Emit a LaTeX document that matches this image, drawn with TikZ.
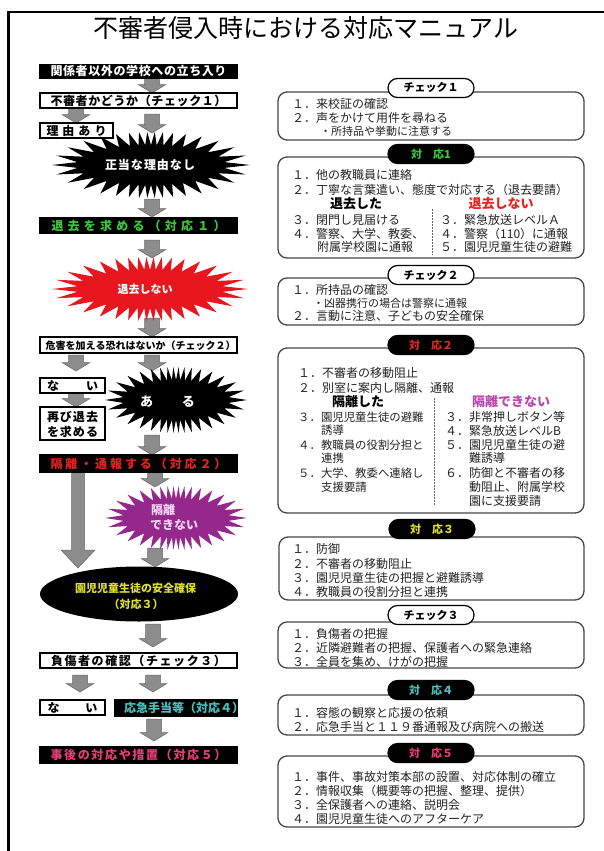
\documentclass[tikz,border=0pt]{standalone}
\usepackage{fontspec}
\setmainfont{Noto Sans CJK JP}
\usetikzlibrary{shapes.geometric,shapes.misc}
\definecolor{jgreen}{RGB}{60,200,60}
\definecolor{jred}{RGB}{230,35,35}
\definecolor{jyellow}{RGB}{225,225,50}
\definecolor{jcyan}{RGB}{70,195,190}
\definecolor{jpink}{RGB}{235,60,120}
\definecolor{burstred}{RGB}{232,22,30}
\definecolor{burstpurple}{RGB}{150,40,140}
\definecolor{jpurple}{RGB}{185,70,175}
\definecolor{agray}{RGB}{140,140,140}
\definecolor{agrayd}{RGB}{105,105,105}
\definecolor{rboxc}{RGB}{70,70,70}
\definecolor{txtc}{RGB}{35,35,35}
\def\sprA#1{#1\sprB}
\def\sprB#1{\ifx#1\relax\else\hfill#1\expandafter\sprB\fi}
\newcommand\spread[2]{\makebox[#1][s]{\sprA#2\relax}}
\newcommand\garrow[3]{\filldraw[arrowsty] (#1-7.5,#2) -- (#1+7.5,#2) -- (#1+7.5,#3-8.5) -- (#1+14,#3-8.5) -- (#1,#3) -- (#1-14,#3-8.5) -- (#1-7.5,#3-8.5) -- cycle;}
\newcommand\burst[5]{\fill[#5] plot[variable=\t, samples at={0,1,...,67}] ({#1+(#3-mod(\t,2)*0.25*#3)*cos(\t*5.2941+17*sin(\t*10.5882))}, {#2+(#4-mod(\t,2)*0.4*#4)*sin(\t*5.2941+17*sin(\t*10.5882))}) -- cycle;}
\begin{document}
\begin{tikzpicture}[x=1pt,y=-1pt,
  arrowsty/.style={fill=agray, draw=agrayd, line width=0.5pt},
  lbox/.style={draw=black, line width=1.1pt, fill=white, inner sep=0pt, font=\fontsize{12}{14}\selectfont\bfseries, text height=10pt, text depth=1pt, minimum height=15pt},
  dbox/.style={lbox, fill=black},
  btxt/.style={inner sep=0pt, text=white, font=\fontsize{12}{14}\selectfont\bfseries, text height=10pt, text depth=1pt},
  pill/.style={rounded rectangle, draw=black, line width=1.2pt, fill=white, minimum width=86pt, minimum height=19pt, inner sep=0pt, font=\fontsize{11}{13}\selectfont\bfseries, text height=9pt, text depth=1pt},
  dpill/.style={pill, fill=black},
  rbox/.style={draw=rboxc, line width=1.3pt, rounded corners=9pt, fill=white},
  rtxt/.style={anchor=west, inner sep=0pt, text=txtc, font=\fontsize{12}{14}\selectfont, text height=10pt, text depth=1pt},
  ntxt/.style={rtxt, font=\fontsize{11.4}{13}\selectfont},
  stxt/.style={rtxt, font=\fontsize{11}{13}\selectfont},
  htxt/.style={inner sep=0pt, font=\fontsize{13}{15}\selectfont\bfseries, text height=10.5pt, text depth=1pt},
  sep/.style={draw=black!60, line width=0.8pt, dash pattern=on 1.5pt off 1.5pt}
]
\useasboundingbox (0,0) rectangle (604,851);
\fill[white] (0,0) rectangle (604,851);
\draw[line width=3pt] (8.5,851) -- (8.5,11);
\draw[line width=2pt] (7,12) -- (604,12);
\node[inner sep=0pt, font=\fontsize{25}{28}\selectfont] (title) at (306,28) {不審者侵入時における対応マニュアル};

% ---------- left column ----------
\garrow{152}{78}{93}
\garrow{76}{108}{123}
\garrow{152}{114}{133}
\garrow{152}{199}{217}
\garrow{152}{240}{258}
\garrow{152}{318}{337}
\garrow{76}{355}{371}
\garrow{152}{355}{371}
\garrow{76}{393}{407}
\garrow{152}{435}{455}
\garrow{155}{472}{487}
\garrow{155}{548}{567}
\garrow{153}{624}{647}
\garrow{80}{675}{692}
\garrow{153}{675}{692}
\garrow{154}{719}{741}
\filldraw[arrowsty] (71.5,472) -- (84.5,472) -- (84.5,550) -- (95,550) -- (78,568) -- (61,550) -- (71.5,550) -- cycle;

\node[dbox, minimum width=197pt, minimum height=14pt, text=white] (bA) at (138.5,71.5) {\spread{176pt}{関係者以外の学校への立ち入り}};
\node[lbox, minimum width=197pt] (bB) at (138.5,100.5) {\spread{176pt}{不審者かどうか（チェック１）}};
\node[lbox, minimum width=73pt] (bC) at (76.5,130.5) {\spread{60pt}{理由あり}};

\burst{151}{165}{99}{33}{black}
\node[btxt] (s1) at (150,165) {\spread{90pt}{正当な理由なし}};

\node[dbox, minimum width=197pt, text=jgreen] (bD) at (138.5,225.5) {\spread{174pt}{退去を求める（対応１）}};

\burst{150}{289}{98}{32}{burstred}
\node[btxt, font=\fontsize{11}{13}\selectfont\bfseries] (s2) at (145,289) {退去しない};

\node[lbox, minimum width=197pt, minimum height=16pt, font=\fontsize{10}{12}\selectfont\bfseries] (bE) at (138.5,345) {\spread{186pt}{危害を加える恐れはないか（チェック２）}};
\node[lbox, minimum width=65pt] (bF) at (72.5,385.5) {\spread{51pt}{ない}};
\node[lbox, minimum width=65pt, minimum height=33pt] (bG) at (72.5,423.5) {};
\node[btxt, text=black] (bG1) at (72.5,417) {\spread{51pt}{再び退去}};
\node[btxt, text=black] (bG2) at (72.5,432) {\spread{51pt}{を求める}};

\burst{176}{400}{71}{33}{black}
\node[btxt, font=\fontsize{13}{15}\selectfont\bfseries] (s3) at (167.5,402) {\spread{55pt}{ある}};

\node[dbox, minimum width=197pt, minimum height=17pt, text=jred] (bH) at (138.5,463.5) {\spread{176pt}{隔離・通報する（対応２）}};

\burst{176}{518}{71}{32}{burstpurple}
\node[btxt, anchor=west, text={rgb,255:red,245;green,215;blue,245}] (s4a) at (151,510) {隔離};
\node[btxt, anchor=west, text={rgb,255:red,245;green,215;blue,245}] (s4b) at (150,525) {できない};

\node[ellipse, fill=black, minimum width=198pt, minimum height=55pt, inner sep=0pt] (ell) at (139,594) {};
\node[btxt, text=jyellow, font=\fontsize{11}{13}\selectfont\bfseries] (ell1) at (135,588) {\spread{120pt}{園児児童生徒の安全確保}};
\node[btxt, text=jyellow, font=\fontsize{11}{13}\selectfont\bfseries] (ell2) at (136,604) {（対応３）};

\node[lbox, minimum width=197pt] (bI) at (138.5,660.5) {\spread{175pt}{負傷者の確認（チェック３）}};
\node[lbox, minimum width=65pt] (bJ) at (72.5,707.5) {\spread{50pt}{ない}};
\node[dbox, minimum width=122pt, minimum height=16pt, text=jcyan] (bK) at (176,708) {\spread{104pt}{応急手当等（対応４）}};
\node[dbox, minimum width=197pt, minimum height=16pt, text=jpink] (bL) at (138.5,755) {\spread{176pt}{事後の対応や措置（対応５）}};

% ---------- right column ----------
% check 1
\draw[rbox] (278,92) rectangle (584,140);
\node[pill] (p1) at (431,88) {チェック１};
\node[rtxt] (r1a) at (292,104) {１．来校証の確認};
\node[rtxt] (r1b) at (292,118) {２．声をかけて用件を尋ねる};
\node[stxt] (r1c) at (320,130.5) {・所持品や挙動に注意する};

% taiou 1
\draw[rbox] (278,157) rectangle (584,258);
\node[dpill, text=jgreen] (p2) at (431,154) {対　応1};
\node[rtxt] (r2a) at (292,175) {１．他の教職員に連絡};
\node[rtxt] (r2b) at (292,190) {２．丁寧な言葉遣い、態度で対応する（退去要請）};
\node[htxt] (r2c) at (356,204) {退去した};
\node[htxt, text=jred] (r2d) at (501,204) {退去しない};
\draw[sep] (432,209) -- (432,255);
\node[rtxt] (r2e) at (292,220) {３．閉門し見届ける};
\node[rtxt] (r2f) at (292,233.5) {４．警察、大学、教委、};
\node[rtxt] (r2g) at (317,247) {附属学校園に通報};
\node[rtxt] (r2h) at (440,220) {３．緊急放送レベルＡ};
\node[rtxt] (r2i) at (440,233.5) {４．警察（110）に通報};
\node[rtxt] (r2j) at (440,247) {５．園児児童生徒の避難};

% check 2
\draw[rbox] (278,278) rectangle (584,325);
\node[pill] (p3) at (431,275) {チェック２};
\node[rtxt] (r3a) at (292,290) {１．所持品の確認};
\node[stxt] (r3b) at (313,303) {・凶器携行の場合は警察に通報};
\node[rtxt] (r3c) at (292,315.5) {２．言動に注意、子どもの安全確保};

% taiou 2
\draw[rbox] (278,348) rectangle (584,513);
\node[dpill, text=jred] (p4) at (431,345) {対　応２};
\node[rtxt] (r4a) at (298,373) {１．不審者の移動阻止};
\node[rtxt] (r4b) at (298,388) {２．別室に案内し隔離、通報};
\node[htxt] (r4c) at (358,402) {隔離した};
\node[htxt, text=jpurple] (r4d) at (511,402) {隔離できない};
\draw[sep] (434,398) -- (434,506);
\node[ntxt] (r4e) at (298,417) {３．園児児童生徒の避難};
\node[ntxt] (r4f) at (321,430) {誘導};
\node[ntxt] (r4g) at (298,445) {４．教職員の役割分担と};
\node[ntxt] (r4h) at (321,458) {連携};
\node[ntxt] (r4i) at (298,473) {５．大学、教委へ連絡し};
\node[ntxt] (r4j) at (321,487) {支援要請};
\node[rtxt] (r4k) at (445,417) {３．非常押しボタン等};
\node[rtxt] (r4l) at (445,430.5) {４．緊急放送レベルB};
\node[rtxt] (r4m) at (445,445) {５．園児児童生徒の避};
\node[rtxt] (r4n) at (469,458) {難誘導};
\node[rtxt] (r4o) at (445,473) {６．防御と不審者の移};
\node[rtxt] (r4p) at (469,487) {動阻止、附属学校};
\node[rtxt] (r4q) at (469,500.5) {園に支援要請};

% taiou 3
\draw[rbox] (279,537) rectangle (584,600);
\node[dpill, text=jyellow] (p5) at (432,529) {対　応３};
\node[rtxt] (r5a) at (292,549) {１．防御};
\node[rtxt] (r5b) at (292,564) {２．不審者の移動阻止};
\node[rtxt] (r5c) at (292,578) {３．園児児童生徒の把握と避難誘導};
\node[rtxt] (r5d) at (292,592) {４．教職員の役割分担と連携};

% check 3
\draw[rbox] (278,622) rectangle (584,668);
\node[pill] (p6) at (431,615) {チェック３};
\node[rtxt] (r6a) at (292,634) {１．負傷者の把握};
\node[rtxt] (r6b) at (292,648) {２．近隣避難者の把握、保護者への緊急連絡};
\node[rtxt] (r6c) at (292,662) {３．全員を集め、けがの把握};

% taiou 4
\draw[rbox] (278,695) rectangle (584,735);
\node[dpill, text=jcyan] (p7) at (431,690) {対　応４};
\node[rtxt] (r7a) at (292,713) {１．容態の観察と応援の依頼};
\node[rtxt] (r7b) at (292,727) {２．応急手当と１１９番通報及び病院への搬送};

% taiou 5
\draw[rbox] (278,756) rectangle (584,827);
\node[dpill, text=jpink] (p8) at (431,753) {対　応５};
\node[rtxt] (r8a) at (292,777) {１．事件、事故対策本部の設置、対応体制の確立};
\node[rtxt] (r8b) at (292,791) {２．情報収集（概要等の把握、整理、提供）};
\node[rtxt] (r8c) at (292,805) {３．全保護者への連絡、説明会};
\node[rtxt] (r8d) at (292,819) {４．園児児童生徒へのアフターケア};
\end{tikzpicture}
\end{document}
